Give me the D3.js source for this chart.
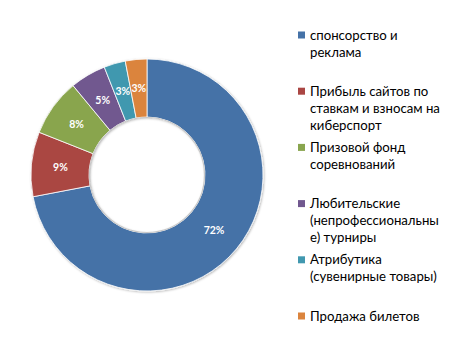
<!DOCTYPE html>
<html>
<head>
<meta charset="utf-8">
<script src="https://cdn.jsdelivr.net/npm/d3@7"></script>
<style>
  body { margin: 0; background: #fff; }
  svg { display: block; }
</style>
</head>
<body>
<svg id="chart" width="450" height="350"></svg>
<script>
// Revenue structure of esports, shares in percent
const categories = [
  "спонсорство и\nреклама",
  "Прибыль сайтов по\nставкам и взносам на\nкиберспорт",
  "Призовой фонд\nсоревнований",
  "Любительские\n(непрофессиональны\nе) турниры",
  "Атрибутика\n(сувенирные товары)",
  "Продажа билетов"
];
const values = [72, 9, 8, 5, 3, 3];
const colors = ["#4572A7", "#AA4643", "#89A54E", "#71588F", "#4198AF", "#DB843D"];

const svg = d3.select("#chart");
const cx = 147, cy = 175, rOuter = 116, rInner = 58;

const defs = svg.append("defs");
const shadow = defs.append("filter").attr("id", "ringShadow")
  .attr("x", "-10%").attr("y", "-10%").attr("width", "120%").attr("height", "120%");
shadow.append("feDropShadow").attr("dx", 0.8).attr("dy", 0.8)
  .attr("stdDeviation", 1.2).attr("flood-color", "#000").attr("flood-opacity", 0.3);

const pie = d3.pie().sort(null).value(d => d);
const arcs = pie(values);
const arc = d3.arc().innerRadius(rInner).outerRadius(rOuter);

const g = svg.append("g").attr("transform", `translate(${cx},${cy})`);
const ring = g.append("g").attr("filter", "url(#ringShadow)");
ring.selectAll("path").data(arcs).join("path")
  .attr("d", arc)
  .attr("fill", (d, i) => colors[i])
  .attr("stroke", "#fff")
  .attr("stroke-width", 0.8);

// faint shading just inside the hole edge
g.append("circle").attr("r", rInner - 0.5)
  .attr("fill", "none").attr("stroke", "#c8c8c8").attr("stroke-width", 1.2);

g.selectAll("text.pct").data(arcs).join("text")
  .attr("class", "pct")
  .attr("transform", d => `translate(${arc.centroid(d)})`)
  .attr("text-anchor", "middle")
  .attr("dy", "0.35em")
  .attr("font-family", "Lato, 'Liberation Sans', Arial, sans-serif")
  .attr("font-weight", "bold")
  .attr("font-size", 10.5)
  .attr("fill", "#fff")
  .text(d => d.data + "%");

// legend
const legendY = d3.scalePoint().domain(d3.range(categories.length)).range([35, 316]);
const legend = svg.append("g");
categories.forEach((c, i) => {
  const y = legendY(i);
  legend.append("rect")
    .attr("x", 298).attr("y", y - 3.5).attr("width", 7).attr("height", 7)
    .attr("fill", colors[i]);
  const t = legend.append("text")
    .attr("x", 310).attr("y", y)
    .attr("font-family", "Lato, 'Liberation Sans', Arial, sans-serif")
    .attr("font-size", 13.2)
    .attr("fill", "#000");
  c.split("\n").forEach((line, k) => {
    t.append("tspan").attr("x", 310).attr("y", y + k * 17).attr("dy", "0.35em").text(line);
  });
});
</script>
</body>
</html>
